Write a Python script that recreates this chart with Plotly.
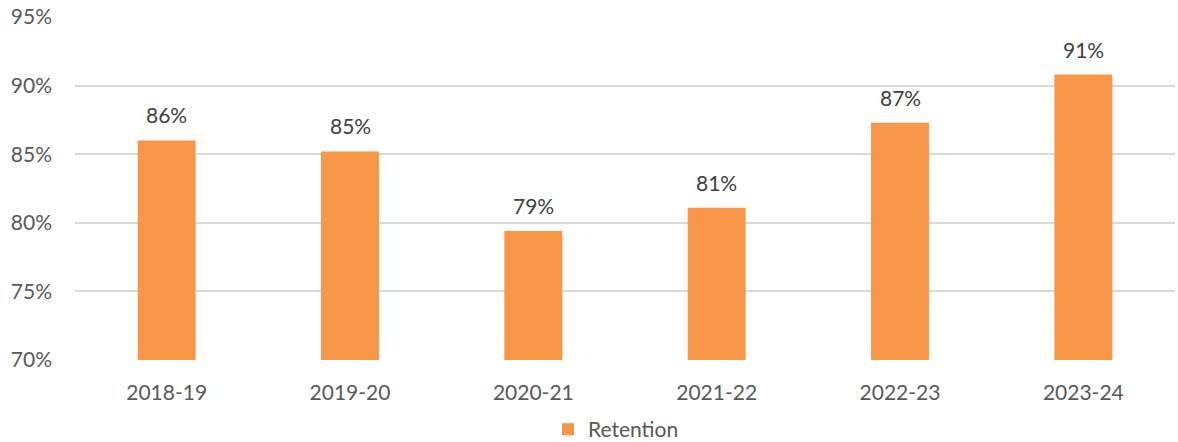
import plotly.graph_objects as go

categories = ["2018-19", "2019-20", "2020-21", "2021-22", "2022-23", "2023-24"]
retention = [86.0, 85.2, 79.4, 81.1, 87.3, 90.8]
series_name = "Retention"

fig = go.Figure()
fig.add_trace(go.Bar(
    x=categories, y=retention, name=series_name,
    marker=dict(color="#F79646", line=dict(width=0)),
))
for c, v in zip(categories, retention):
    fig.add_annotation(x=c, y=v, text=f"{v:.0f}%", showarrow=False,
                       yanchor="bottom", yshift=11,
                       font=dict(size=21, color="#404040", family="Lato"))
fig.update_layout(
    width=1178, height=442,
    margin=dict(l=75, r=3, t=17, b=82, autoexpand=False),
    paper_bgcolor="white", plot_bgcolor="white",
    bargap=0.684,
    font=dict(family="Lato", size=21, color="#595959"),
    showlegend=True,
    legend=dict(orientation="h", x=0.43, xanchor="left", y=-0.143, yanchor="top",
                font=dict(size=21, color="#595959"), itemwidth=30),
    xaxis=dict(showgrid=False, ticks="", ticklabelstandoff=18, showline=False,
               automargin=False, tickfont=dict(size=21, color="#595959")),
    yaxis=dict(range=[70, 95], dtick=5, ticksuffix="%", showgrid=True,
               gridcolor="#D9D9D9", gridwidth=1.5, zeroline=False, ticks="",
               automargin=False, ticklabelstandoff=22,
               tickfont=dict(size=21, color="#595959")),
)
fig.write_html("out.html", config={"displayModeBar": False},
               post_script="document.body.style.margin='0px';")
